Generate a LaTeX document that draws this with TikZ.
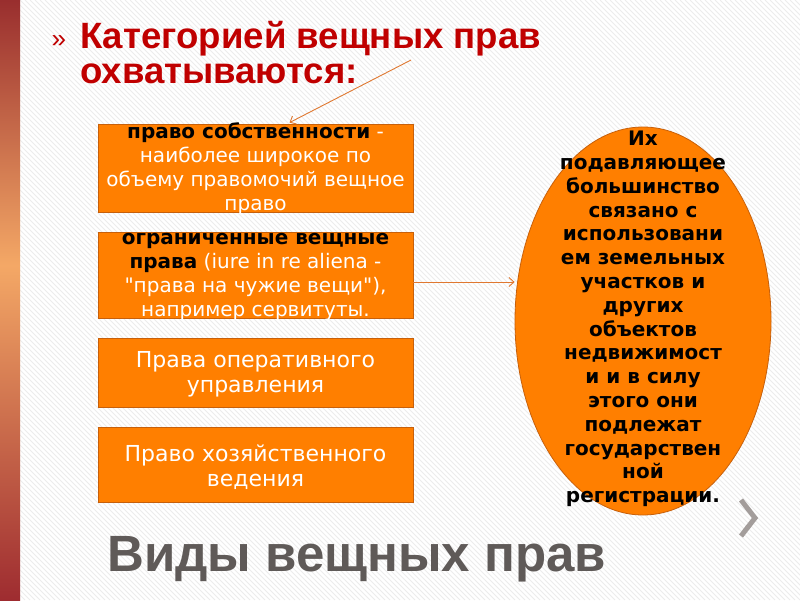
\documentclass[tikz,border=0pt]{standalone}
\usepackage{fontspec}
\setmainfont{DejaVu Sans}
\newfontfamily\titlefont{Liberation Sans}
\newfontfamily\boxfont{DejaVu Sans}
\usetikzlibrary{shapes.geometric,arrows.meta}
\definecolor{orfill}{HTML}{FF7F00}
\definecolor{ordraw}{HTML}{C8600A}
\definecolor{titlered}{HTML}{C00000}
\definecolor{arrowor}{HTML}{E07830}
\definecolor{bottomgray}{HTML}{5F5A58}
\definecolor{stripecol}{HTML}{ECECEC}
\definecolor{striptop}{HTML}{992E2E}
\definecolor{stripmid}{HTML}{F4A866}
\definecolor{stripbot}{HTML}{9E2C30}
\definecolor{chevgray}{HTML}{A39D9B}
\pgfdeclareverticalshading{stripshade}{100bp}{color(0bp)=(stripbot); color(25bp)=(stripbot); color(52.9bp)=(stripmid); color(75bp)=(striptop); color(100bp)=(striptop)}
\tikzset{
  obox/.style={draw=ordraw, line width=0.8pt, fill=orfill, minimum width=315, minimum height=#1, inner sep=0pt},
  btext/.style={text=white, align=center, inner sep=0pt, font=\boxfont\fontsize{20}{24}\selectfont},
  btextlarge/.style={text=white, align=center, inner sep=0pt, font=\boxfont\fontsize{22}{25}\selectfont},
  conn/.style={draw=arrowor, line width=0.9pt, -{Straight Barb[length=5pt,width=9pt]}},
  stripe/.style={draw=stripecol, line width=1pt},
  titletext/.style={anchor=base west, text=titlered, inner sep=0pt, font=\titlefont\bfseries\fontsize{36.6}{40}\selectfont},
}
\begin{document}
\begin{tikzpicture}[x=1pt,y=-1pt]
\useasboundingbox (0,0) rectangle (800,600);
\fill[white] (0,0) rectangle (800,600);
\begin{scope}
  \clip (0,0) rectangle (800,600);
  \foreach \i in {-600,-595,...,800} \draw[stripe] (\i,0) -- ++(600,600);
\end{scope}
\shade[shading=stripshade] (0,0) rectangle (20,600);

% title
\node[anchor=base west, text=titlered, font=\titlefont\fontsize{26}{30}\selectfont] (bul) at (48,47) {»};
\node[titletext] (t1) at (80,48) {Категорией вещных прав};
\node[titletext] (t2) at (80,83) {охватываются:};

% boxes
\node[obox=88] (b1) at (255.5,168) {};
\node[btext] (b1t) at (255.5,169) {{\color{black}\bfseries право собственности} -\\наиболее широкое по\\объему правомочий вещное\\право};
\node[obox=86] (b2) at (255.5,275) {};
\node[btext] (b2t) at (255.5,277) {{\color{black}\bfseries ограниченные вещные}\\{\color{black}\bfseries права} (iure in re aliena -\\"права на чужие вещи"),\\например сервитуты.};
\node[obox=69] (b3) at (255.5,372.5) {};
\node[btextlarge] (b3t) at (255.5,374.5) {Права оперативного\\управления};
\node[obox=75] (b4) at (255.5,464.5) {};
\node[btextlarge] (b4t) at (255.5,467.5) {Право хозяйственного\\ведения};

% ellipse
\node[ellipse, draw=ordraw, line width=0.8pt, fill=orfill, minimum width=256, minimum height=388, inner sep=0pt] (ell) at (643,321) {};
\node[align=center, inner sep=0pt, font=\boxfont\bfseries\fontsize{20}{23.8}\selectfont] (ellt) at (643,319) {Их\\подавляющее\\большинство\\связано с\\использовани\\ем земельных\\участков и\\других\\объектов\\недвижимост\\и и в силу\\этого они\\подлежат\\государствен\\ной\\регистрации.};

% connectors
\coordinate (a1s) at (411,60);
\draw[conn] (a1s) -- ([xshift=34pt,yshift=1pt]b1.north);
\draw[conn] ([yshift=-7pt]b2.east) -- ([yshift=-7pt]b2.east -| ell.west);

% bottom title
\node[anchor=base west, text=bottomgray, font=\titlefont\bfseries\fontsize{51}{56}\selectfont, inner sep=0pt] (bt) at (107,571) {Виды вещных прав};

% chevron
\draw[draw=chevgray, line width=5pt] (741,500) -- (755,518) -- (741,536);
\end{tikzpicture}
\end{document}
